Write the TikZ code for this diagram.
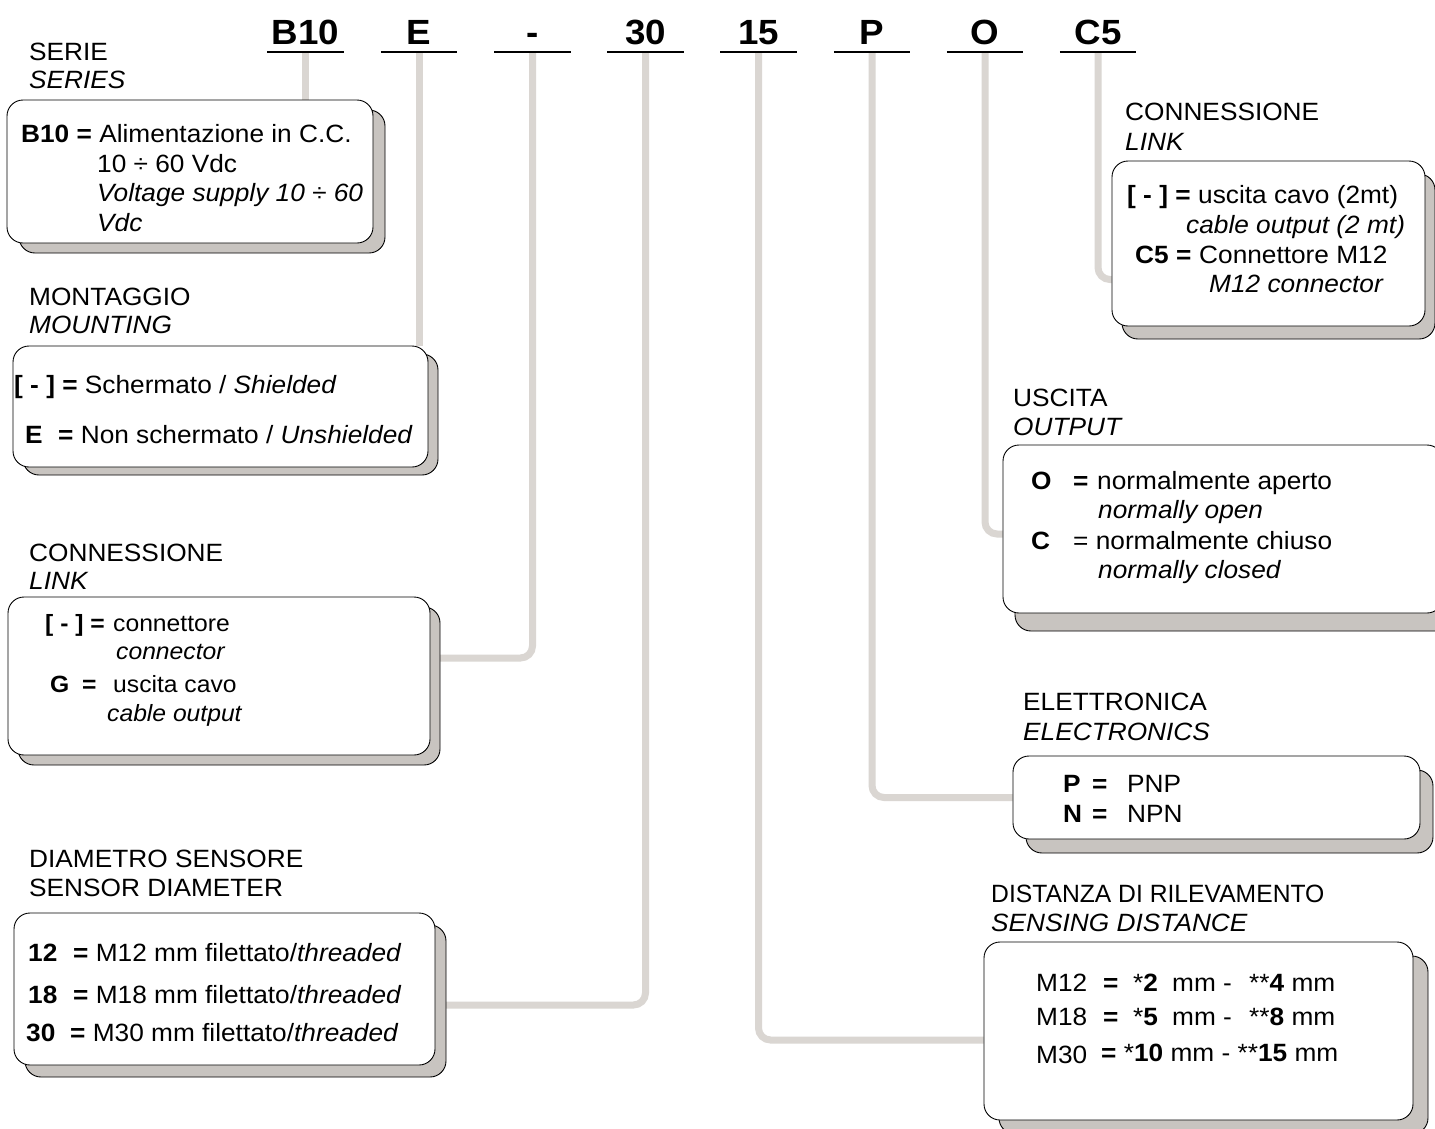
\documentclass[tikz,border=0pt]{standalone}
\usepackage{fontspec}
\setmainfont{Liberation Sans}[FakeStretch=1.05]
\usetikzlibrary{shadows}
\definecolor{conncol}{RGB}{218,214,210}
\definecolor{shadcol}{RGB}{200,196,192}
\newcommand{\fsz}{\fontsize{25}{29}\selectfont}
\newcommand{\fsm}{\fontsize{23.5}{27}\selectfont}
\newcommand{\hsz}{\fontsize{35}{40}\selectfont\bfseries}
\pgfdeclarelayer{back}
\pgfsetlayers{back,main}
\begin{document}
\begin{tikzpicture}[x=1pt,y=-1pt,
  txt/.style={anchor=base west, inner sep=0pt, font=\fsz},
  txs/.style={anchor=base west, inner sep=0pt, font=\fsm},
  hdr/.style={anchor=south, inner xsep=0pt, inner ysep=7pt, text depth=0pt, minimum width=76pt, font=\hsz},
  uline/.style={line width=2.4pt},
  conn/.style={draw=conncol, line width=7pt, rounded corners=12pt},
  box/.style={draw=black, line width=0.9pt, fill=white, rounded corners=16pt, inner sep=0pt},
  sh/.style 2 args={copy shadow={shadow xshift=#1pt, shadow yshift=-#2pt, fill=shadcol, draw=black, line width=0.9pt}}
]
\begin{pgfonlayer}{back}
\fill[white] (0,0) rectangle (1435,1128);
\end{pgfonlayer}
\useasboundingbox (0,0) rectangle (1435,1128);

% header
\node[hdr] (h1) at (305.5,52) {B10};
\node[hdr] (h2) at (419,52) {E};
\node[hdr] (h3) at (532.5,52) {-};
\node[hdr] (h4) at (645.5,52) {30};
\node[hdr] (h5) at (758.5,52) {15};
\node[hdr] (h6) at (872,52) {P};
\node[hdr] (h7) at (985,52) {O};
\node[hdr] (h8) at (1098,52) {C5};
\foreach \h in {h1,h2,h3,h4,h5,h6,h7,h8}{
  \draw[uline] (\h.south west) -- (\h.south east);
}

% boxes
\node[box, sh={12}{10}, minimum width=366pt, minimum height=143pt] (b1) at (190,171.5) {};
\node[box, sh={10}{8}, minimum width=415pt, minimum height=121pt] (b2) at (220.5,406.5) {};
\node[box, sh={10}{10}, minimum width=422pt, minimum height=158pt] (b3) at (219,676) {};
\node[box, sh={11}{12}, minimum width=421pt, minimum height=152pt] (b4) at (224.5,989) {};
\node[box, sh={10}{13}, minimum width=313pt, minimum height=165pt] (b5) at (1268.5,243.5) {};
\node[box, sh={12}{18}, minimum width=440pt, minimum height=168pt] (b6) at (1223,529) {};
\node[box, sh={13}{14}, minimum width=407pt, minimum height=83pt] (b7) at (1216.5,797.5) {};
\node[box, sh={15}{14}, minimum width=429pt, minimum height=178pt] (b8) at (1198.5,1031) {};

% connectors
\begin{pgfonlayer}{back}
\draw[conn] (h1.south) -- (h1.south |- b1.north);
\draw[conn] (h2.south) -- (h2.south |- b2.north);
\draw[conn] (h3.south) |- ([yshift=18pt]b3.east);
\draw[conn] (h4.south) |- ([yshift=-16pt]b4.east);
\draw[conn] (h5.south) |- ([yshift=-9pt]b8.west);
\draw[conn] (h6.south) |- (b7.west);
\draw[conn] (h7.south) |- ([yshift=-5pt]b6.west);
\draw[conn] (h8.south) |- ([yshift=-36pt]b5.west);
\end{pgfonlayer}

% titles
\node[txt] (s1) at (29,60) {SERIE};
\node[txt] (s1i) at (29,88) {\itshape SERIES};
\node[txt] (s2) at (29,305) {MONTAGGIO};
\node[txt] (s2i) at (29,333) {\itshape MOUNTING};
\node[txt] (s3) at (29,561) {CONNESSIONE};
\node[txt] (s3i) at (29,589) {\itshape LINK};
\node[txt] (s4) at (29,867) {DIAMETRO SENSORE};
\node[txt] (s4i) at (29,896) {SENSOR DIAMETER};
\node[txt] (s5) at (1125,120) {CONNESSIONE};
\node[txt] (s5i) at (1125,150) {\itshape LINK};
\node[txt] (s6) at (1013,406) {USCITA};
\node[txt] (s6i) at (1013,435) {\itshape OUTPUT};
\node[txt] (s7) at (1023,710) {ELETTRONICA};
\node[txt] (s7i) at (1023,740) {\itshape ELECTRONICS};
\node[txt] (s8) at (991,902) {\scalebox{0.94}[1]{DISTANZA DI RILEVAMENTO}};
\node[txt] (s8i) at (991,931) {\itshape SENSING DISTANCE};

% box 1
\node[txt] (t1a) at (21,142) {\textbf{B10 =} Alimentazione in C.C.};
\node[txt] (t1b) at (97,172) {10 ÷ 60 Vdc};
\node[txt] (t1c) at (97,201) {\itshape Voltage supply 10 ÷ 60};
\node[txt] (t1d) at (97,231) {\itshape Vdc};

% box 2
\node[txt] (t2a) at (14,393) {\textbf{[ - ] =} Schermato / \textit{Shielded}};
\node[txt] (t2b) at (25,443) {\textbf{E}};
\node[txt] (t2c) at (58,443) {\textbf{=} Non schermato / \textit{Unshielded}};

% box 3
\node[txs] (t3a) at (45,631) {\textbf{[ - ] =}};
\node[txs] (t3b) at (113,631) {connettore};
\node[txs] (t3c) at (116,659) {\itshape connector};
\node[txs] (t3d) at (50,692) {\textbf{G}};
\node[txs] (t3e) at (82,692) {\textbf{=}};
\node[txs] (t3f) at (113,692) {uscita cavo};
\node[txs] (t3g) at (107,721) {\itshape cable output};

% box 4
\node[txt] (t4a) at (28,961) {\textbf{12}};
\node[txt] (t4b) at (73,961) {\textbf{=} M12 mm filettato/\textit{threaded}};
\node[txt] (t4c) at (28,1003) {\textbf{18}};
\node[txt] (t4d) at (73,1003) {\textbf{=} M18 mm filettato/\textit{threaded}};
\node[txt] (t4e) at (26,1041) {\textbf{30}};
\node[txt] (t4f) at (70,1041) {\textbf{=} M30 mm filettato/\textit{threaded}};

% box 5
\node[txt] (t5a) at (1127,203) {\textbf{[ - ] =}};
\node[txt] (t5b) at (1198,203) {uscita cavo (2mt)};
\node[txt] (t5c) at (1186,233) {\itshape cable output (2 mt)};
\node[txt] (t5d) at (1135,263) {\textbf{C5 =}};
\node[txt] (t5e) at (1199,263) {Connettore M12};
\node[txt] (t5f) at (1209,292) {\itshape M12 connector};

% box 6
\node[txt] (t6a) at (1031,489) {\textbf{O}};
\node[txt] (t6b) at (1073,489) {\textbf{=}};
\node[txt] (t6c) at (1097,489) {normalmente aperto};
\node[txt] (t6d) at (1098,518) {\itshape normally open};
\node[txt] (t6e) at (1031,549) {\textbf{C}};
\node[txt] (t6f) at (1073,549) {= normalmente chiuso};
\node[txt] (t6g) at (1098,578) {\itshape normally closed};

% box 7
\node[txt] (t7a) at (1063,792) {\textbf{P}};
\node[txt] (t7b) at (1092,792) {\textbf{=}};
\node[txt] (t7c) at (1127,792) {PNP};
\node[txt] (t7d) at (1063,822) {\textbf{N}};
\node[txt] (t7e) at (1092,822) {\textbf{=}};
\node[txt] (t7f) at (1127,822) {NPN};

% box 8
\node[txt] (t8a) at (1036,991) {M12};
\node[txt] (t8b) at (1103,991) {\textbf{=}};
\node[txt] (t8c) at (1133,991) {*\textbf{2}};
\node[txt] (t8d) at (1172,991) {mm -};
\node[txt] (t8e) at (1249,991) {**\textbf{4} mm};
\node[txt] (t8f) at (1036,1025) {M18};
\node[txt] (t8g) at (1103,1025) {\textbf{=}};
\node[txt] (t8h) at (1133,1025) {*\textbf{5}};
\node[txt] (t8i) at (1172,1025) {mm -};
\node[txt] (t8j) at (1249,1025) {**\textbf{8} mm};
\node[txt] (t8k) at (1036,1063) {M30};
\node[txt] (t8l) at (1101,1061) {\textbf{=} *\textbf{10} mm - **\textbf{15} mm};
\end{tikzpicture}
\end{document}
